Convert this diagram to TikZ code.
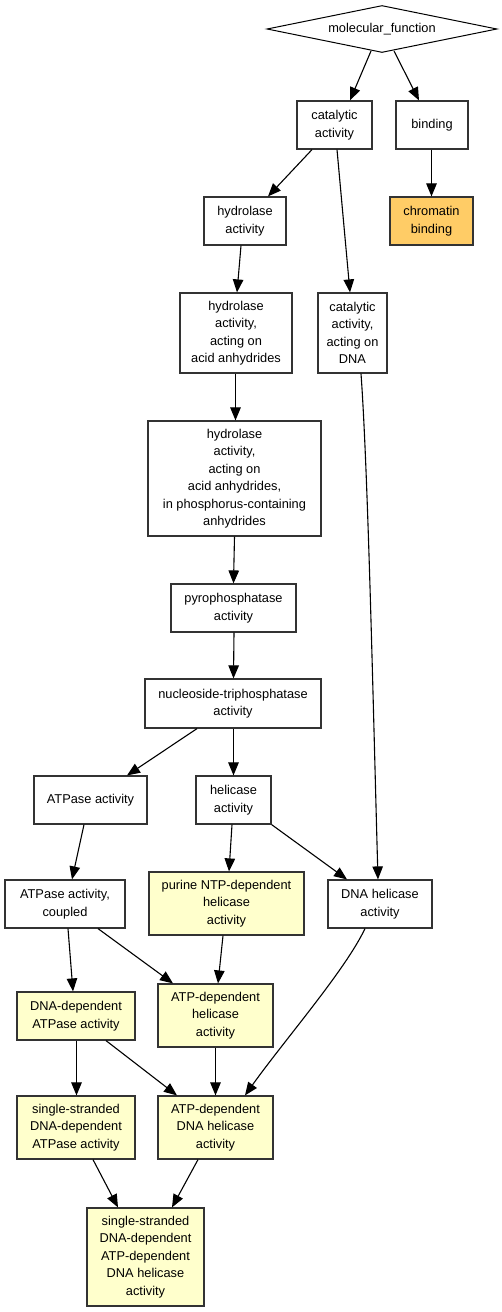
\documentclass[tikz,border=0pt]{standalone}
\usepackage{fontspec}
\setmainfont{Liberation Sans}
\usetikzlibrary{arrows.meta,shapes.geometric}
\definecolor{edgecol}{HTML}{000000}
\definecolor{boxcol}{HTML}{333333}
\definecolor{yel}{HTML}{FFFFCC}
\definecolor{org}{HTML}{FFCC66}
\begin{document}
\begin{tikzpicture}[x=1pt,y=-1pt,
  term/.style={draw=boxcol,line width=1.2pt,rectangle,inner sep=0pt,align=center,
    font=\fontsize{12.8}{17.5}\selectfont},
  yterm/.style={term,fill=yel},
  oterm/.style={term,fill=org},
  rootterm/.style={draw=black,line width=1pt,shape=diamond,aspect=4.9,inner sep=0pt,
    minimum width=230pt,minimum height=47pt,font=\fontsize{12.8}{17.5}\selectfont},
  edge/.style={draw=edgecol,line width=1.1pt,-{Triangle[length=13pt,width=10.5pt]}}]
\useasboundingbox (0,0) rectangle (501,1312);
\fill[white] (0,0) rectangle (501,1312);

\node[rootterm] (mf) at (382,29) {molecular\_function};
\node[term,minimum width=75pt,minimum height=48pt] (cat) at (334.5,125) {catalytic\\activity};
\node[term,minimum width=72pt,minimum height=48pt] (bind) at (432,125) {binding};
\node[oterm,minimum width=83pt,minimum height=48pt] (chrom) at (431.5,221) {chromatin\\binding};
\node[term,minimum width=82pt,minimum height=48pt] (hyd) at (245,221) {hydrolase\\activity};
\node[term,minimum width=112pt,minimum height=80pt] (acid) at (236,333) {hydrolase\\activity,\\acting on\\acid anhydrides};
\node[term,minimum width=69pt,minimum height=80pt] (catdna) at (352.5,333) {catalytic\\activity,\\acting on\\DNA};
\node[term,minimum width=173pt,minimum height=115pt] (phos) at (234.5,478.5) {hydrolase\\activity,\\acting on\\acid anhydrides,\\in phosphorus-containing\\anhydrides};
\node[term,minimum width=125pt,minimum height=48pt] (pyro) at (233.5,608) {pyrophosphatase\\activity};
\node[term,minimum width=176pt,minimum height=49pt] (ntp) at (233,703.5) {nucleoside-triphosphatase\\activity};
\node[term,minimum width=113pt,minimum height=48pt] (atpase) at (90.5,800) {ATPase activity};
\node[term,minimum width=75pt,minimum height=48pt] (hel) at (233.5,800) {helicase\\activity};
\node[term,minimum width=120pt,minimum height=48pt] (coup) at (65,904) {ATPase activity,\\coupled};
\node[yterm,minimum width=155pt,minimum height=63pt] (pur) at (226.5,903.5) {purine NTP-dependent\\helicase\\activity};
\node[term,minimum width=104pt,minimum height=48pt] (dnahel) at (380,904) {DNA helicase\\activity};
\node[yterm,minimum width=118pt,minimum height=48pt] (dnaatp) at (76,1016) {DNA-dependent\\ATPase activity};
\node[yterm,minimum width=115pt,minimum height=63pt] (atphel) at (215.5,1015.5) {ATP-dependent\\helicase\\activity};
\node[yterm,minimum width=118pt,minimum height=63pt] (ssatp) at (76,1127.5) {single-stranded\\DNA-dependent\\ATPase activity};
\node[yterm,minimum width=115pt,minimum height=63pt] (atpdnahel) at (215.5,1127.5) {ATP-dependent\\DNA helicase\\activity};
\node[yterm,minimum width=117pt,minimum height=98pt] (final) at (145.5,1257) {single-stranded\\DNA-dependent\\ATP-dependent\\DNA helicase\\activity};

\draw[edge] ([xshift=-11pt,yshift=2pt]mf.south) -- ([xshift=15.5pt]cat.north);
\draw[edge] ([xshift=12pt,yshift=2pt]mf.south) -- ([xshift=-13pt]bind.north);
\draw[edge] ([xshift=-22.5pt]cat.south) -- ([xshift=23pt]hyd.north);
\draw[edge] ([xshift=2.5pt]cat.south) -- ([xshift=-2.5pt]catdna.north);
\draw[edge] ([xshift=-0.5pt]bind.south) -- (chrom.north);
\draw[edge] ([xshift=-4pt]hyd.south) -- ([xshift=1pt]acid.north);
\draw[edge] ([xshift=-0.5pt]acid.south) -- ([xshift=1pt]phos.north);
\draw[edge] (phos.south) -- (pyro.north);
\draw[edge] ([xshift=0.5pt]pyro.south) -- ([xshift=0.5pt]ntp.north);
\draw[edge] ([xshift=-36pt]ntp.south) -- ([xshift=36.5pt]atpase.north);
\draw[edge] ([xshift=0.5pt]ntp.south) -- (hel.north);
\draw[edge] ([xshift=8.5pt]catdna.south) .. controls ([xshift=15.5pt,yshift=-97pt]catdna.south) and ([xshift=-7pt,yshift=180pt]dnahel.north) .. ([xshift=-2pt]dnahel.north);
\draw[edge] ([xshift=-6.5pt]atpase.south) -- ([xshift=7pt]coup.north);
\draw[edge] ([xshift=-1.5pt]hel.south) -- ([xshift=2.5pt]pur.north);
\draw[edge] (hel.south east) -- ([xshift=-33pt]dnahel.north);
\draw[edge] ([xshift=3pt]coup.south) -- ([xshift=-3pt]dnaatp.north);
\draw[edge] ([xshift=33pt]coup.south) -- ([xshift=-42.5pt]atphel.north);
\draw[edge] ([xshift=-3.5pt]pur.south) -- ([xshift=2.5pt]atphel.north);
\draw[edge] ([xshift=-15pt]dnahel.south) .. controls ([xshift=-35pt,yshift=-42pt]dnahel.south) and ([xshift=69.5pt,yshift=56pt]atpdnahel.north) .. ([xshift=29.5pt]atpdnahel.north);
\draw[edge] ([xshift=0.5pt]dnaatp.south) -- ([xshift=0.5pt]ssatp.north);
\draw[edge] ([xshift=30pt]dnaatp.south) -- ([xshift=-38.5pt]atpdnahel.north);
\draw[edge] (atphel.south) -- (atpdnahel.north);
\draw[edge] ([xshift=17pt]ssatp.south) -- ([xshift=-27.5pt]final.north);
\draw[edge] ([xshift=-17.5pt]atpdnahel.south) -- ([xshift=26.5pt]final.north);
\end{tikzpicture}
\end{document}
